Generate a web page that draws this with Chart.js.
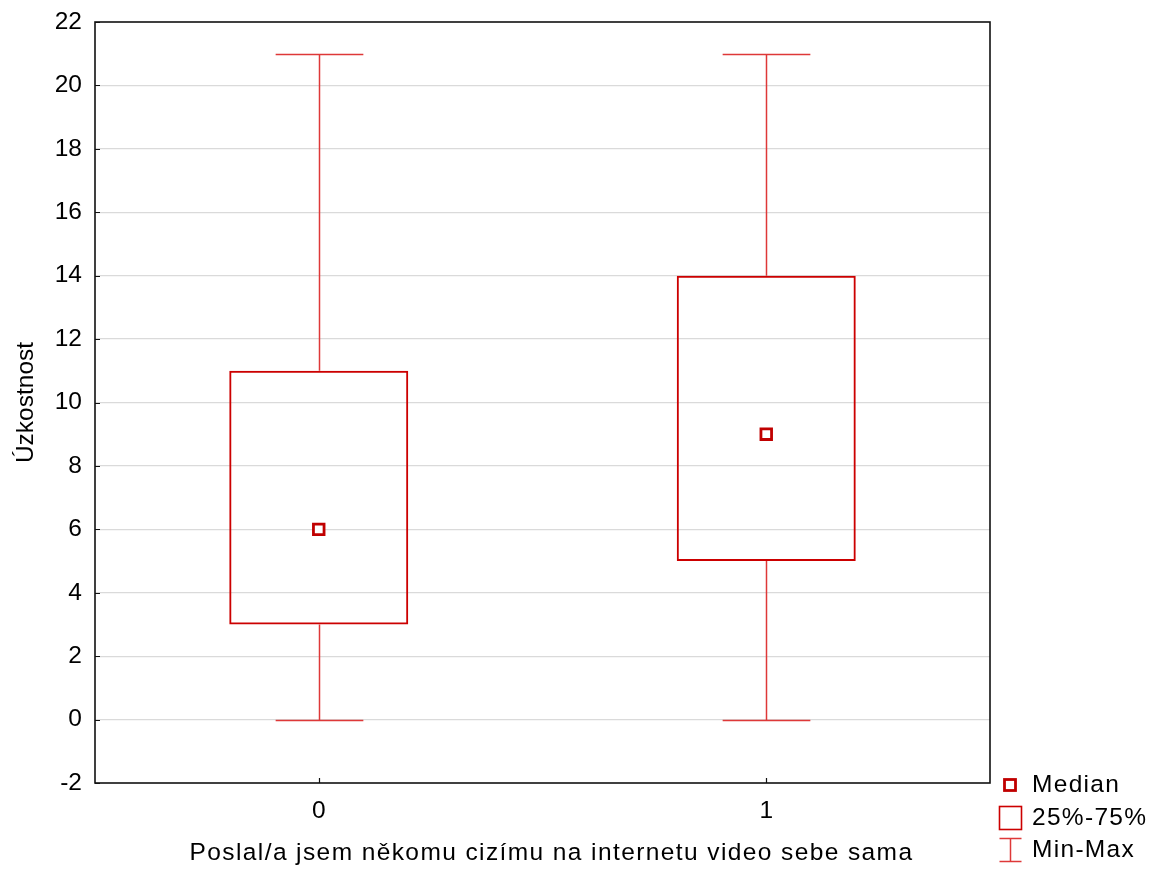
<!DOCTYPE html>
<html>
<head>
<meta charset="utf-8">
<script src="https://cdn.jsdelivr.net/npm/chart.js@4"></script>
<style>
html,body{margin:0;padding:0;background:#fff;}
#wrap{width:1162px;height:873px;}
</style>
</head>
<body>
<div id="wrap"><canvas id="c" width="1162" height="873"></canvas></div>
<script>
const categories = ['0', '1'];
const q1Values = [3, 5];
const q3Values = [11, 14];
const medianValues = [6, 9];
const minValues = [0, 0];
const maxValues = [21, 21];
const yTickValues = [-2, 0, 2, 4, 6, 8, 10, 12, 14, 16, 18, 20, 22];
const legendLabels = ['Median', '25%-75%', 'Min-Max'];
const xTitle = 'Poslal/a jsem někomu cizímu na internetu video sebe sama';
const yTitle = 'Úzkostnost';

const FONT = 'Liberation Sans, Arial, Helvetica, sans-serif';
const FS = 24.5;
const BOX_RED = 'rgb(204,0,0)';
const WHISKER_RED = 'rgb(222,56,56)';
const MED_RED = 'rgb(192,0,0)';

const whiskerPlugin = {
  id: 'whiskers',
  beforeDatasetsDraw(chart) {
    const ctx = chart.ctx, x = chart.scales.x, y = chart.scales.y;
    const catW = x.width / categories.length;
    const capHalf = catW * 0.098;
    ctx.save();
    ctx.strokeStyle = WHISKER_RED;
    ctx.lineWidth = 1.5;
    categories.forEach((c, i) => {
      const px = Math.round(x.getPixelForValue(i)) + 0.5;
      const yMax = Math.round(y.getPixelForValue(maxValues[i])) + 0.5;
      const yMin = Math.round(y.getPixelForValue(minValues[i])) + 0.5;
      const yQ3 = y.getPixelForValue(q3Values[i]);
      const yQ1 = y.getPixelForValue(q1Values[i]);
      ctx.beginPath();
      ctx.moveTo(px, yQ3); ctx.lineTo(px, yMax);
      ctx.moveTo(px - capHalf, yMax); ctx.lineTo(px + capHalf, yMax);
      ctx.moveTo(px, yQ1); ctx.lineTo(px, yMin);
      ctx.moveTo(px - capHalf, yMin); ctx.lineTo(px + capHalf, yMin);
      ctx.stroke();
    });
    ctx.restore();
  }
};

const framePlugin = {
  id: 'frame',
  afterDatasetsDraw(chart) {
    const ctx = chart.ctx, a = chart.chartArea, x = chart.scales.x, y = chart.scales.y;
    ctx.save();
    ctx.strokeStyle = '#111';
    ctx.lineWidth = 1.6;
    ctx.strokeRect(a.left, a.top, a.right - a.left, a.bottom - a.top);
    ctx.lineWidth = 1.2;
    ctx.beginPath();
    yTickValues.forEach(v => {
      const py = Math.round(y.getPixelForValue(v)) + 0.5;
      ctx.moveTo(a.left, py); ctx.lineTo(a.left + 5, py);
    });
    categories.forEach((c, i) => {
      const px = Math.round(x.getPixelForValue(i)) + 0.5;
      ctx.moveTo(px, a.bottom); ctx.lineTo(px, a.bottom - 5);
    });
    ctx.stroke();
    ctx.restore();
  }
};

const spacedTitlePlugin = {
  id: 'spacedTitle',
  beforeDraw(chart) {
    const xs = chart.scales.x;
    if (xs && !xs._spacedPatched) {
      const orig = xs.drawTitle;
      xs.drawTitle = function () {
        const ctx = this.ctx;
        ctx.save();
        ctx.letterSpacing = '1.4px';
        ctx.translate(9, 0);
        orig.apply(this, arguments);
        ctx.restore();
      };
      xs._spacedPatched = true;
    }
  }
};

const legendPlugin = {
  id: 'customLegend',
  afterDraw(chart) {
    const ctx = chart.ctx, a = chart.chartArea;
    const left = a.right;
    const rows = [785, 818, 850];
    ctx.save();
    ctx.strokeStyle = MED_RED; ctx.lineWidth = 2.8;
    ctx.strokeRect(left + 14.5, rows[0] - 5.5, 11, 11);
    ctx.strokeStyle = BOX_RED; ctx.lineWidth = 1.6;
    ctx.strokeRect(left + 9.5, rows[1] - 11.5, 22, 23);
    ctx.strokeStyle = WHISKER_RED; ctx.lineWidth = 1.5;
    ctx.beginPath();
    ctx.moveTo(left + 9.5, rows[2] - 11.5); ctx.lineTo(left + 31.5, rows[2] - 11.5);
    ctx.moveTo(left + 20.5, rows[2] - 11.5); ctx.lineTo(left + 20.5, rows[2] + 11.5);
    ctx.moveTo(left + 9.5, rows[2] + 11.5); ctx.lineTo(left + 31.5, rows[2] + 11.5);
    ctx.stroke();
    ctx.fillStyle = '#000';
    ctx.font = FS + 'px ' + FONT;
    ctx.letterSpacing = '1.3px';
    ctx.textBaseline = 'middle';
    ctx.textAlign = 'left';
    legendLabels.forEach((t, i) => ctx.fillText(t, left + 42, rows[i]));
    ctx.restore();
  }
};

new Chart(document.getElementById('c'), {
  data: {
    labels: categories,
    datasets: [
      {
        type: 'bar',
        label: legendLabels[1],
        data: categories.map((c, i) => [q1Values[i], q3Values[i]]),
        backgroundColor: 'rgba(255,255,255,0)',
        borderColor: BOX_RED,
        borderWidth: 2,
        borderSkipped: false,
        barPercentage: 0.4,
        categoryPercentage: 1,
        order: 2
      },
      {
        type: 'line',
        label: legendLabels[0],
        data: medianValues,
        showLine: false,
        pointStyle: 'rect',
        pointRadius: 7.5,
        pointBorderWidth: 2.8,
        pointBorderColor: MED_RED,
        pointBackgroundColor: '#fff',
        borderColor: MED_RED,
        order: 1
      }
    ]
  },
  options: {
    responsive: false,
    animation: false,
    devicePixelRatio: 1,
    layout: { padding: { left: 0, right: 172, top: 22, bottom: 0 } },
    plugins: {
      legend: { display: false },
      tooltip: { enabled: false }
    },
    scales: {
      x: {
        type: 'category',
        offset: true,
        grid: { display: false, drawTicks: false },
        border: { display: false },
        ticks: { color: '#000', font: { family: FONT, size: FS }, padding: 14 },
        title: { display: true, text: xTitle, color: '#000', font: { family: FONT, size: FS }, padding: { top: 4, bottom: 5 } },
        afterFit(scale) {
          scale.height = 90;
          scale.paddingLeft = 0; scale.paddingRight = 0;
        }
      },
      y: {
        min: -2,
        max: 22,
        afterBuildTicks(scale) { scale.ticks = yTickValues.map(v => ({ value: v })); },
        grid: {
          drawTicks: false,
          lineWidth: 1.2,
          color: ctx => (ctx.tick && (ctx.tick.value === -2 || ctx.tick.value === 22)) ? 'rgba(0,0,0,0)' : '#dadada'
        },
        border: { display: false },
        ticks: { color: '#000', font: { family: FONT, size: FS }, padding: 13 },
        title: { display: true, text: yTitle, color: '#000', font: { family: FONT, size: FS }, padding: { top: 12, bottom: 4 } },
        afterFit(scale) {
          scale.width = 95;
          scale.paddingTop = 0; scale.paddingBottom = 0;
        }
      }
    }
  },
  plugins: [spacedTitlePlugin, whiskerPlugin, framePlugin, legendPlugin]
});
</script>
</body>
</html>
